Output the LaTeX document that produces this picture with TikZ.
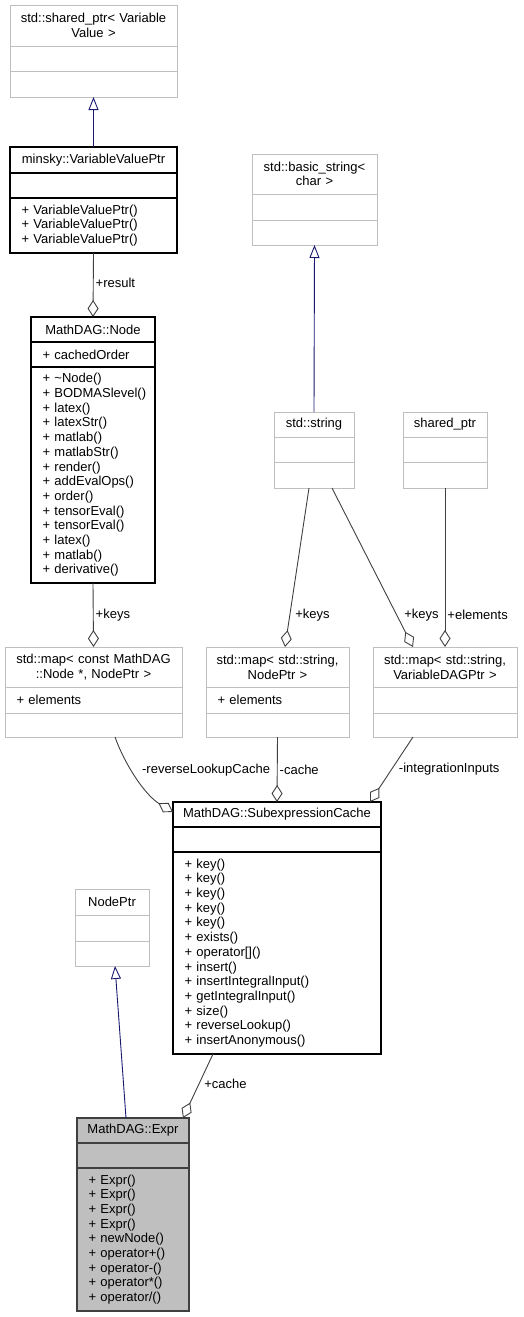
\documentclass[tikz,border=0pt]{standalone}
\usepackage{fontspec}
\setmainfont{Liberation Sans}
\usepackage{tikz}
\usetikzlibrary{positioning, arrows.meta}
\definecolor{boxgrey}{HTML}{BFBFBF}
\definecolor{edgegrey}{HTML}{404040}
\definecolor{inheritblue}{HTML}{191970}
\newcommand{\umlfont}{\fontsize{13}{14.7}\selectfont\hyphenpenalty=10000\exhyphenpenalty=10000}
\tikzset{
        node distance=0pt, % parts of one class sit right on each other
        class title/.style={
		draw=boxgrey, line width=1pt, outer sep=0pt,
		minimum width=#1, text width=#1pt-8pt,
		inner xsep=4pt, inner ysep=0pt,
		align=center, anchor=north, font=\umlfont,
	  },
        class part/.style={
		draw=boxgrey, line width=1pt, outer sep=0pt,
		minimum width=#1, text width=#1pt-23pt,
		inner xsep=11.5pt, inner ysep=0pt,
		align=left, font=\umlfont,
	  },
        solid class/.style={draw=black, line width=1.2pt},
        current class/.style={draw=edgegrey, line width=1.2pt, fill=boxgrey},
        inherit/.style={draw=inheritblue, line width=0.9pt, -{Triangle[open, length=13pt, width=10pt]}},
        member/.style={draw=edgegrey, line width=0.9pt, -{Diamond[open, length=17pt, width=11pt]}},
        role/.style={font=\umlfont, inner sep=2pt},
    }
\begin{document}
\begin{tikzpicture}[x=1pt, y=-1pt]
    \useasboundingbox (0,0) rectangle (523,1317);
    % left column
    \node [class title=167, minimum height=41] (svp) at (93.5,5) {std::shared\_ptr< Variable\\Value >};
    \node [class part=167, minimum height=25, below=of svp] (svp-a) {};
    \node [class part=167, minimum height=26, below=of svp-a] (svp-m) {};

    \node [class title=167, solid class, minimum height=26] (vvp) at (93.5,147) {minsky::VariableValuePtr};
    \node [class part=167, solid class, minimum height=25, below=of vvp] (vvp-a) {};
    \node [class part=167, solid class, minimum height=55, below=of vvp-a] (vvp-m) {+ VariableValuePtr()\\+ VariableValuePtr()\\+ VariableValuePtr()};

    \node [class title=124, solid class, minimum height=25] (node) at (93,317) {MathDAG::Node};
    \node [class part=124, solid class, minimum height=25, below=of node] (node-a) {+ cachedOrder};
    \node [class part=124, solid class, minimum height=216, below=of node-a] (node-m) {+ \textasciitilde Node()\\+~BODMASlevel()\\+ latex()\\+ latexStr()\\+ matlab()\\+ matlabStr()\\+ render()\\+ addEvalOps()\\+ order()\\+ tensorEval()\\+ tensorEval()\\+ latex()\\+ matlab()\\+ derivative()};

    % string side
    \node [class title=125, minimum height=40] (bstr) at (314.5,154) {std::basic\_string<\\char >};
    \node [class part=125, minimum height=26, below=of bstr] (bstr-a) {};
    \node [class part=125, minimum height=25, below=of bstr-a] (bstr-m) {};

    \node [class title=80, minimum height=25] (str) at (314,412) {std::string};
    \node [class part=80, minimum height=25, below=of str] (str-a) {};
    \node [class part=80, minimum height=26, below=of str-a] (str-m) {};

    \node [class title=84, minimum height=25] (sptr) at (445,412) {shared\_ptr};
    \node [class part=84, minimum height=25, below=of sptr] (sptr-a) {};
    \node [class part=84, minimum height=26, below=of sptr-a] (sptr-m) {};

    % maps
    \node [class title=177, minimum height=40] (mapn) at (93.5,647) {std::map< const MathDAG\\::Node *, NodePtr >};
    \node [class part=177, minimum height=26, below=of mapn] (mapn-a) {+ elements};
    \node [class part=177, minimum height=24, below=of mapn-a] (mapn-m) {};

    \node [class title=143, minimum height=40] (maps) at (277.5,647) {std::map< std::string,\\NodePtr >};
    \node [class part=143, minimum height=26, below=of maps] (maps-a) {+ elements};
    \node [class part=143, minimum height=24, below=of maps-a] (maps-m) {};

    \node [class title=144, minimum height=40] (mapv) at (445,647) {std::map< std::string,\\VariableDAGPtr >};
    \node [class part=144, minimum height=26, below=of mapv] (mapv-a) {};
    \node [class part=144, minimum height=24, below=of mapv-a] (mapv-m) {};

    % cache and expr
    \node [class title=208, solid class, minimum height=25] (cache) at (277,802) {MathDAG::SubexpressionCache};
    \node [class part=208, solid class, minimum height=25, below=of cache] (cache-a) {};
    \node [class part=208, solid class, minimum height=202, below=of cache-a] (cache-m) {+ key()\\+ key()\\+ key()\\+ key()\\+ key()\\+ exists()\\+ operator[]()\\+ insert()\\+ insertIntegralInput()\\+ getIntegralInput()\\+ size()\\+ reverseLookup()\\+ insertAnonymous()};

    \node [class title=74, minimum height=26] (nptr) at (112,889) {NodePtr};
    \node [class part=74, minimum height=26, below=of nptr] (nptr-a) {};
    \node [class part=74, minimum height=25, below=of nptr-a] (nptr-m) {};

    \node [class title=112, current class, minimum height=25] (expr) at (133,1118) {MathDAG::Expr};
    \node [class part=112, current class, minimum height=25, below=of expr] (expr-a) {};
    \node [class part=112, current class, minimum height=143, below=of expr-a] (expr-m) {+ Expr()\\+ Expr()\\+ Expr()\\+ Expr()\\+ newNode()\\+ operator+()\\+ operator-()\\+ operator*()\\+ operator/()};

    % connectors
    \draw [inherit] (vvp.north) -- (svp-m.south);
    \draw [member] (vvp-m.south) -- node [role, right, pos=0.47] {+result} (node.north);
    \draw [member] (node-m.south) -- node [role, right, pos=0.5] {+keys} (mapn.north);
    \draw [inherit] (str.north) -- (bstr-m.south);
    \draw [member] ([xshift=-5pt]str-m.south) -- node [role, right=3pt, pos=0.8] {+keys} ([xshift=7.5pt]maps.north);
    \draw [member] ([xshift=18pt]str-m.south) -- node [role, right=5pt, pos=0.8] {+keys} ([xshift=-32pt]mapv.north);
    \draw [member] (sptr-m.south) -- node [role, right, pos=0.8] {+elements} (mapv.north);
    \draw [member] ([xshift=21.5pt]mapn-m.south) .. controls (125,765) and (145,795) .. node [role, right=8pt, pos=0.4] {-reverseLookupCache} ([yshift=-10pt]cache.north west);
    \draw [member] (maps-m.south) -- node [role, right, pos=0.5] {-cache} (cache.north);
    \draw [member] ([xshift=-32pt]mapv-m.south) -- node [role, right=5pt, pos=0.5] {-integrationInputs} ([xshift=93pt]cache.north);
    \draw [inherit] ([xshift=-7pt]expr.north) -- ([xshift=3pt]nptr-m.south);
    \draw [member] ([xshift=-64pt]cache-m.south) -- node [role, right=3pt, pos=0.47] {+cache} ([xshift=50pt]expr.north);
\end{tikzpicture}
\end{document}
